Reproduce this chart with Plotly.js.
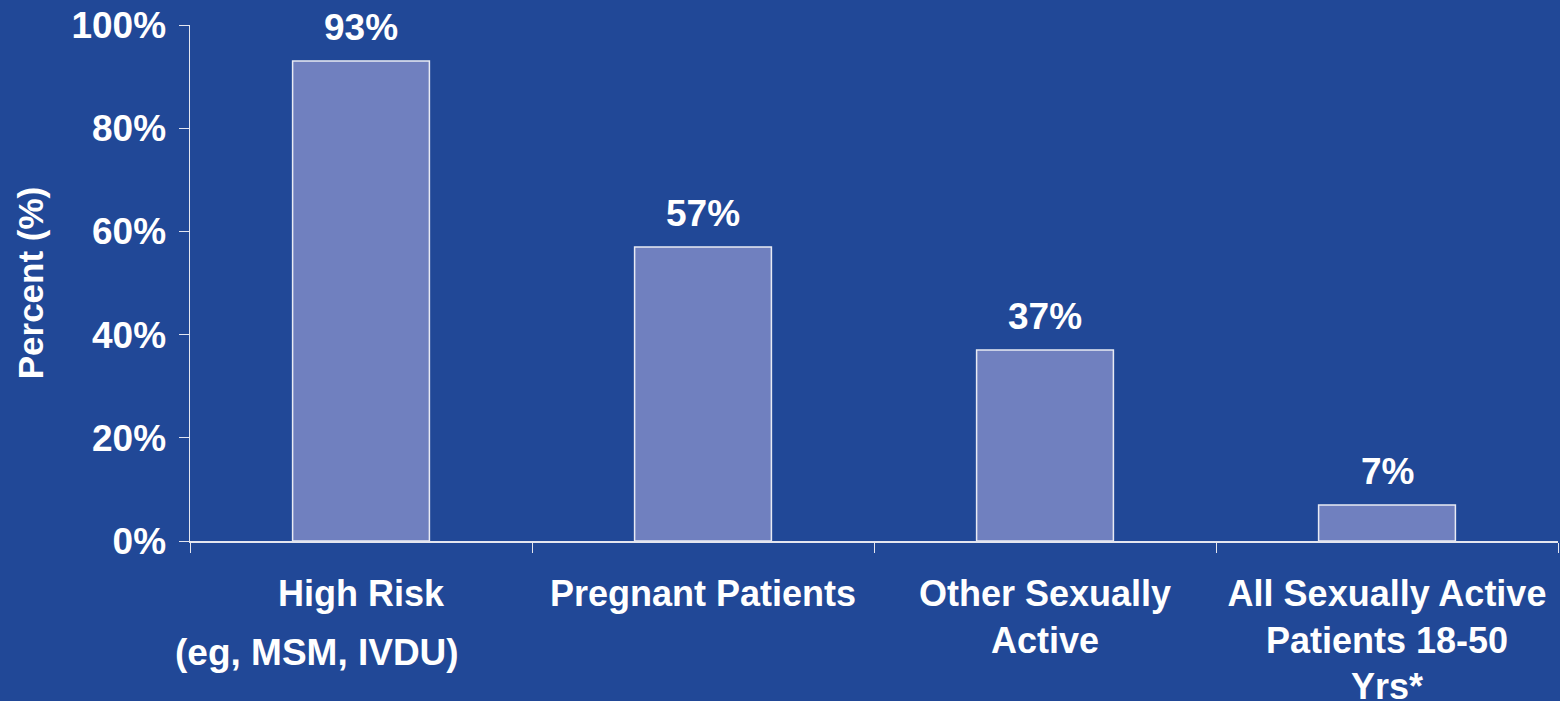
<!DOCTYPE html>
<html>
<head>
<meta charset="utf-8">
<script src="https://cdn.plot.ly/plotly-3.0.1.min.js"></script>
<style>html,body{margin:0;padding:0;background:#214897;}#chart{width:1560px;height:701px;}</style>
</head>
<body>
<div id="chart"></div>
<script>
const categories = ["High Risk", "Pregnant Patients", "Other Sexually Active", "All Sexually Active Patients 18-50 Yrs*"];
const tickLabels = ["High Risk", "Pregnant Patients", "Other Sexually<br>Active", "All Sexually Active<br>Patients 18-50<br>Yrs*"];
const subLabel = "(eg, MSM, IVDU)";
const values = [93, 57, 37, 7];
const yTicks = [0, 20, 40, 60, 80, 100];

const FONT = "'Liberation Sans', Arial, sans-serif";
const WHITE = "#ffffff";
const AXIS = "#e4e6f0";

const trace = {
  type: "bar",
  x: categories,
  y: values,
  width: 0.4,
  marker: {color: "#7080bf", line: {color: "#e8eaf4", width: 1.5}},
  hoverinfo: "skip"
};

const annotations = values.map((v, i) => ({
  x: categories[i], y: v, xref: "x", yref: "y",
  text: v + "%", showarrow: false, yanchor: "bottom", yshift: 11,
  font: {family: FONT, size: 37, color: WHITE, weight: "bold"}
}));
annotations.push({
  x: categories[0], y: 0, xref: "x", yref: "paper",
  text: subLabel, showarrow: false, yanchor: "top", yshift: -89, xshift: -44,
  font: {family: FONT, size: 37, color: WHITE, weight: "bold"}
});

const layout = {
  width: 1560, height: 701,
  paper_bgcolor: "#214897", plot_bgcolor: "#214897",
  margin: {l: 190, r: 2, t: 25, b: 160},
  showlegend: false,
  font: {family: FONT, size: 37, color: WHITE, weight: "bold"},
  xaxis: {
    type: "category",
    range: [-0.5, 3.5],
    tickmode: "array", tickvals: categories, ticktext: tickLabels,
    tickson: "boundaries",
    ticks: "outside", ticklen: 10, tickcolor: AXIS, tickwidth: 1,
    showline: true, linecolor: AXIS, linewidth: 1.5,
    showgrid: false, zeroline: false,
    tickangle: 0,
    tickfont: {family: FONT, size: 36, color: WHITE, weight: "bold"},
    ticklabelstandoff: 20,
    automargin: false, fixedrange: true
  },
  yaxis: {
    range: [0, 100],
    tickmode: "array", tickvals: yTicks,
    ticktext: yTicks.map(t => t + "%"),
    ticks: "outside", ticklen: 10, tickcolor: AXIS, tickwidth: 1,
    showline: true, linecolor: AXIS, linewidth: 1.5,
    showgrid: false, zeroline: false,
    tickfont: {family: FONT, size: 37, color: WHITE, weight: "bold"},
    ticklabelstandoff: 5,
    title: {text: "Percent (%)", standoff: 17, font: {family: FONT, size: 35, color: WHITE, weight: "bold"}},
    automargin: false, fixedrange: true
  },
  annotations: annotations
};

Plotly.newPlot("chart", [trace], layout, {displayModeBar: false, staticPlot: true});
</script>
</body>
</html>
